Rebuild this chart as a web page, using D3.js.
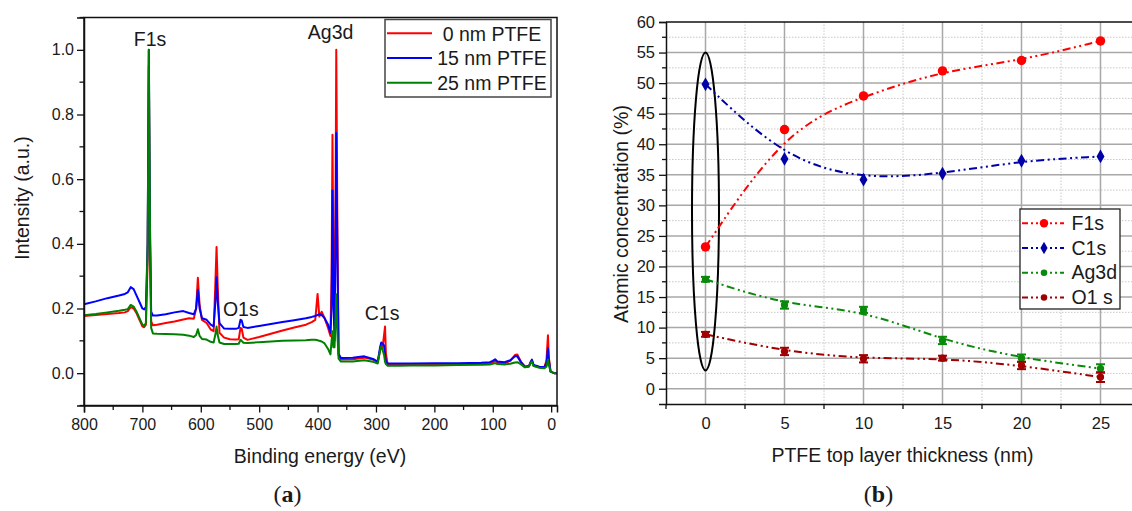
<!DOCTYPE html>
<html><head><meta charset="utf-8">
<script src="https://cdn.jsdelivr.net/npm/d3@7"></script>
<style>
body{margin:0;background:#fff}
svg{display:block}
text{font-family:"Liberation Sans",Arial,Helvetica,sans-serif;fill:#1a1a1a}
</style>
</head><body>
<svg id="fig" width="1132" height="511"></svg>
<script>
// ---------- (a) XPS survey spectra ----------
const energies = [800,780,760,740,730,725,720,715,710,705,700,697,694,691,689,687,685,682,675,660,645,630,620,612,608,605,602,598,590,583,578,575,573,571,568,560,550,540,535,532,530,527,520,500,480,460,440,420,410,404,400,397,393,388,382,378,376,374.5,373,371,369,368,366,364,360,340,320,305,297,293,291,289,286,284.5,283,280,260,240,200,160,120,105,100,96,92,80,70,62,58,52,45,38,35,33,30,20,12,8,5.5,4,1,-5,-10];
const int0nm  = [.177,.180,.183,.186,.188,.192,.204,.200,.185,.165,.145,.142,.150,.35,.95,.40,.16,.148,.150,.155,.160,.166,.170,.168,.20,.295,.21,.165,.155,.135,.130,.28,.39,.27,.125,.110,.105,.104,.105,.14,.138,.110,.103,.112,.122,.132,.141,.150,.158,.165,.245,.175,.19,.17,.14,.115,.30,.737,.35,.15,.60,1.0,.45,.055,.042,.043,.048,.042,.034,.07,.085,.075,.12,.144,.06,.026,.026,.026,.027,.028,.029,.030,.033,.038,.032,.030,.038,.056,.058,.036,.020,.022,.035,.040,.023,.018,.016,.04,.117,.05,.005,0,0];
const int15nm = [.213,.222,.232,.240,.245,.250,.266,.260,.240,.220,.200,.197,.205,.40,1.0,.45,.19,.178,.178,.182,.188,.192,.186,.182,.20,.258,.20,.17,.165,.150,.145,.22,.297,.22,.155,.138,.137,.137,.140,.165,.163,.143,.140,.146,.152,.158,.164,.170,.174,.177,.180,.182,.180,.170,.150,.125,.20,.565,.25,.10,.45,.743,.35,.06,.047,.048,.052,.044,.036,.08,.095,.092,.085,.06,.035,.030,.030,.030,.031,.031,.032,.034,.038,.043,.036,.034,.040,.052,.052,.035,.020,.022,.035,.042,.025,.020,.018,.03,.077,.04,.005,0,0];
const int25nm = [.179,.183,.188,.193,.196,.198,.211,.206,.190,.170,.150,.146,.155,.40,1.0,.45,.14,.123,.122,.121,.120,.119,.116,.112,.118,.136,.115,.106,.104,.097,.095,.12,.144,.118,.095,.090,.090,.090,.091,.103,.100,.094,.093,.096,.098,.100,.101,.102,.103,.103,.102,.100,.098,.092,.075,.058,.10,.13,.08,.08,.18,.244,.12,.045,.036,.036,.040,.035,.030,.07,.082,.075,.055,.035,.028,.023,.023,.024,.024,.025,.026,.027,.029,.031,.028,.027,.029,.033,.034,.028,.018,.020,.032,.036,.022,.017,.015,.02,.042,.025,.005,0,0];
const spectraNames = ["0 nm PTFE","15 nm PTFE","25 nm PTFE"];
const spectraColors = ["#ff0000","#0000ff","#008000"];
const energyTicks = [800,700,600,500,400,300,200,100,0];
const intensityTicks = [0.0,0.2,0.4,0.6,0.8,1.0];
// peak annotations: [label, binding energy, intensity]
const peakLabels = [["F1s",687,1.013],["Ag3d",377.7,1.034],["O1s",531.5,0.176],["C1s",289.5,0.164]];

// ---------- (b) atomic concentrations ----------
const thickness = [0,5,10,15,20,25];
const f1s  = [23.2,42.4,47.9,52.0,53.7,56.9];
const c1s  = [49.8,37.6,34.2,35.2,37.3,38.0];
const ag3d = [17.9,13.7,12.9,7.9,5.0,3.3];
const o1s  = [8.9,6.1,4.9,5.0,3.8,1.9];
const ag3dErr = [0.4,0.6,0.5,0.6,0.6,0.7];
const o1sErr  = [0.4,0.6,0.6,0.4,0.6,0.8];
const elementNames = ["F1s","C1s","Ag3d","O1 s"];
const thicknessTicks = [0,5,10,15,20,25];
const concTicks = [0,5,10,15,20,25,30,35,40,45,50,55,60];
// highlighted region around the bare-film samples (thickness, low %, high %)
const highlight = [0,3,55];

const svg = d3.select("#fig");

// ===== panel (a) =====
(function(){
  const x = d3.scaleLinear().domain([800,-10]).range([84,557]);
  const y = d3.scaleLinear().domain([-0.1,1.1]).range([405.5,17.5]);
  const g = svg.append("g");

  const series = [int0nm,int15nm,int25nm];
  const line = d3.line().x((d,i)=>x(energies[i])).y(d=>y(d));
  series.forEach((s,k)=>{
    g.append("path").datum(s).attr("d",line)
      .attr("fill","none").attr("stroke",spectraColors[k]).attr("stroke-width",2)
      .attr("stroke-linejoin","round");
  });

  // frame
  g.append("rect").attr("x",84).attr("y",17.5).attr("width",557-84).attr("height",405.5-17.5)
    .attr("fill","none").attr("stroke","#111").attr("stroke-width",1.5);

  // axes
  const xAx = d3.axisBottom(x).tickValues(energyTicks).tickSize(7).tickPadding(6).tickFormat(d3.format("d"));
  const xa = g.append("g").attr("transform","translate(0,405.5)").call(xAx);
  const yAx = d3.axisLeft(y).tickValues(intensityTicks).tickSize(7).tickPadding(3).tickFormat(d3.format(".1f"));
  const ya = g.append("g").attr("transform","translate(84,0)").call(yAx);
  [xa,ya].forEach(a=>{
    a.select(".domain").attr("stroke","#111").attr("stroke-width",1.5);
    a.selectAll(".tick line").attr("stroke","#111").attr("stroke-width",1.3);
    a.selectAll("text").style("font-size","16px").attr("fill","#1a1a1a");
  });
  // minor ticks
  g.selectAll(".xm").data(d3.range(750,-10,-100)).enter().append("line")
    .attr("x1",d=>x(d)).attr("x2",d=>x(d)).attr("y1",405.5).attr("y2",410)
    .attr("stroke","#111").attr("stroke-width",1.3);
  g.selectAll(".ym").data([-0.1,0.1,0.3,0.5,0.7,0.9,1.1]).enter().append("line")
    .attr("y1",d=>y(d)).attr("y2",d=>y(d)).attr("x1",79.5).attr("x2",84)
    .attr("stroke","#111").attr("stroke-width",1.3);

  // peak labels
  peakLabels.forEach(p=>{
    g.append("text").attr("x",x(p[1])).attr("y",y(p[2])).attr("text-anchor","middle")
      .style("font-size","19.5px").text(p[0]);
  });

  // legend
  const lg = g.append("g");
  lg.append("rect").attr("x",385).attr("y",19.5).attr("width",166).attr("height",77.5)
    .attr("fill","#fff").attr("stroke","#444").attr("stroke-width",1.5);
  spectraNames.forEach((n,k)=>{
    const yy = 33.3 + k*24.7;
    lg.append("line").attr("x1",387).attr("x2",432).attr("y1",yy).attr("y2",yy)
      .attr("stroke",spectraColors[k]).attr("stroke-width",2);
    lg.append("text").attr("x",492).attr("y",yy+7.3).attr("text-anchor","middle")
      .style("font-size","19.5px").text(n);
  });

  // axis titles
  g.append("text").attr("x",320).attr("y",463).attr("text-anchor","middle")
    .style("font-size","19.5px").text("Binding energy (eV)");
  g.append("text").attr("transform","translate(28.5,198) rotate(-90)").attr("text-anchor","middle")
    .style("font-size","19.5px").text("Intensity (a.u.)");

  const lab = g.append("text").attr("x",287.5).attr("y",502).attr("text-anchor","middle")
    .style("font-family","'Liberation Serif','Times New Roman',serif").style("font-size","24px");
  lab.append("tspan").text("(");
  lab.append("tspan").style("font-weight","bold").text("a");
  lab.append("tspan").text(")");
})();

// ===== panel (b) =====
(function(){
  const x = d3.scaleLinear().domain([-2.5,27.5]).range([666,1140]);
  const y = d3.scaleLinear().domain([-2.5,60]).range([404,22]);
  const g = svg.append("g");

  // grid
  const minorX = d3.range(2.5,27.6,5), minorY = d3.range(2.5,60,5);
  g.selectAll(".gmx").data(minorX).enter().append("line")
    .attr("x1",d=>x(d)).attr("x2",d=>x(d)).attr("y1",y(-2.5)).attr("y2",y(60))
    .attr("stroke","#c8c8c8").attr("stroke-width",1).attr("stroke-dasharray","1.5,1.5");
  g.selectAll(".gmy").data(minorY).enter().append("line")
    .attr("y1",d=>y(d)).attr("y2",d=>y(d)).attr("x1",x(-2.5)).attr("x2",x(27.5))
    .attr("stroke","#c8c8c8").attr("stroke-width",1).attr("stroke-dasharray","1.5,1.5");
  g.selectAll(".gx").data(thicknessTicks).enter().append("line")
    .attr("x1",d=>x(d)).attr("x2",d=>x(d)).attr("y1",y(-2.5)).attr("y2",y(60))
    .attr("stroke","#a8a8a8").attr("stroke-width",1.5);
  g.selectAll(".gy").data(concTicks.filter(d=>d<60)).enter().append("line")
    .attr("y1",d=>y(d)).attr("y2",d=>y(d)).attr("x1",x(-2.5)).attr("x2",x(27.5))
    .attr("stroke","#a8a8a8").attr("stroke-width",1.5);

  // frame lines (top, left, bottom)
  g.append("line").attr("x1",x(-2.5)).attr("x2",x(27.5)).attr("y1",y(60)).attr("y2",y(60))
    .attr("stroke","#111").attr("stroke-width",1.5);

  const xAx = d3.axisBottom(x).tickValues(thicknessTicks).tickSize(0).tickPadding(13).tickFormat(d3.format("d"));
  const xa = g.append("g").attr("transform","translate(0,404)").call(xAx);
  const yAx = d3.axisLeft(y).tickValues(concTicks).tickSize(7).tickPadding(4).tickFormat(d3.format("d"));
  const ya = g.append("g").attr("transform","translate(666,0)").call(yAx);
  [xa,ya].forEach(a=>{
    a.select(".domain").attr("stroke","#111").attr("stroke-width",1.5);
    a.selectAll(".tick line").attr("stroke","#111").attr("stroke-width",1.3);
    a.selectAll("text").style("font-size","16.5px").attr("fill","#1a1a1a");
  });
  g.selectAll(".xt").data(d3.range(-2.5,27.6,5)).enter().append("line")
    .attr("x1",d=>x(d)).attr("x2",d=>x(d)).attr("y1",404).attr("y2",409)
    .attr("stroke","#111").attr("stroke-width",1.3);
  g.selectAll(".yt").data(minorY).enter().append("line")
    .attr("y1",d=>y(d)).attr("y2",d=>y(d)).attr("x1",662).attr("x2",666)
    .attr("stroke","#111").attr("stroke-width",1.3);

  // highlight ellipse
  const cy = (y(highlight[1])+y(highlight[2]))/2;
  g.append("ellipse").attr("cx",x(highlight[0])).attr("cy",cy)
    .attr("rx",13.5).attr("ry",(y(highlight[1])-y(highlight[2]))/2)
    .attr("fill","none").attr("stroke","#000").attr("stroke-width",2);

  const dash = "8,3.5,2,3.5,2,3.5";
  const els = [
    {v:f1s, c:"#ff0000", sym:d3.symbolCircle, size:70, err:null},
    {v:c1s, c:"#0000a8", sym:d3.symbolDiamond, size:55, err:null},
    {v:ag3d,c:"#0a8a0a", sym:d3.symbolCircle, size:42, err:ag3dErr},
    {v:o1s, c:"#a00000", sym:d3.symbolCircle, size:42, err:o1sErr}
  ];
  const line = d3.line().curve(d3.curveBasis).x((d,i)=>x(thickness[i])).y(d=>y(d));
  els.forEach(e=>{
    g.append("path").datum(e.v).attr("d",line).attr("fill","none")
      .attr("stroke",e.c).attr("stroke-width",2).attr("stroke-dasharray",dash);
    if(e.err){
      e.v.forEach((v,i)=>{
        const xx = x(thickness[i]);
        [[v-e.err[i],v+e.err[i]]].forEach(([lo,hi])=>{
          g.append("line").attr("x1",xx).attr("x2",xx).attr("y1",y(lo)).attr("y2",y(hi)).attr("stroke",e.c).attr("stroke-width",2);
          [lo,hi].forEach(t=>g.append("line").attr("x1",xx-4.5).attr("x2",xx+4.5).attr("y1",y(t)).attr("y2",y(t)).attr("stroke",e.c).attr("stroke-width",2));
        });
      });
    }
    g.selectAll(null).data(e.v).enter().append("path")
      .attr("d",d3.symbol().type(e.sym).size(e.size))
      .attr("transform",(d,i)=>`translate(${x(thickness[i])},${y(d)})`)
      .attr("fill",e.c);
  });

  // legend
  const lg = g.append("g");
  lg.append("rect").attr("x",1020).attr("y",209).attr("width",100).attr("height",100)
    .attr("fill","#fff").attr("stroke","#222").attr("stroke-width",1.3);
  elementNames.forEach((n,k)=>{
    const yy = 223.3 + k*24.7, e = els[k];
    lg.append("line").attr("x1",1022).attr("x2",1064).attr("y1",yy).attr("y2",yy)
      .attr("stroke",e.c).attr("stroke-width",2).attr("stroke-dasharray","6,3,2,3,2,3");
    lg.append("path").attr("d",d3.symbol().type(e.sym).size(e.size*0.8))
      .attr("transform",`translate(1044,${yy})`).attr("fill",e.c);
    lg.append("text").attr("x",1071.5).attr("y",yy+6.5).style("font-size","19.5px").text(n);
  });

  g.append("text").attr("x",902.5).attr("y",462).attr("text-anchor","middle")
    .style("font-size","19.5px").text("PTFE top layer thickness (nm)");
  g.append("text").attr("transform","translate(628,214) rotate(-90)").attr("text-anchor","middle")
    .style("font-size","19.5px").text("Atomic concentration (%)");

  const lab = g.append("text").attr("x",878.5).attr("y",502).attr("text-anchor","middle")
    .style("font-family","'Liberation Serif','Times New Roman',serif").style("font-size","24px");
  lab.append("tspan").text("(");
  lab.append("tspan").style("font-weight","bold").text("b");
  lab.append("tspan").text(")");
})();
</script>
</body></html>
